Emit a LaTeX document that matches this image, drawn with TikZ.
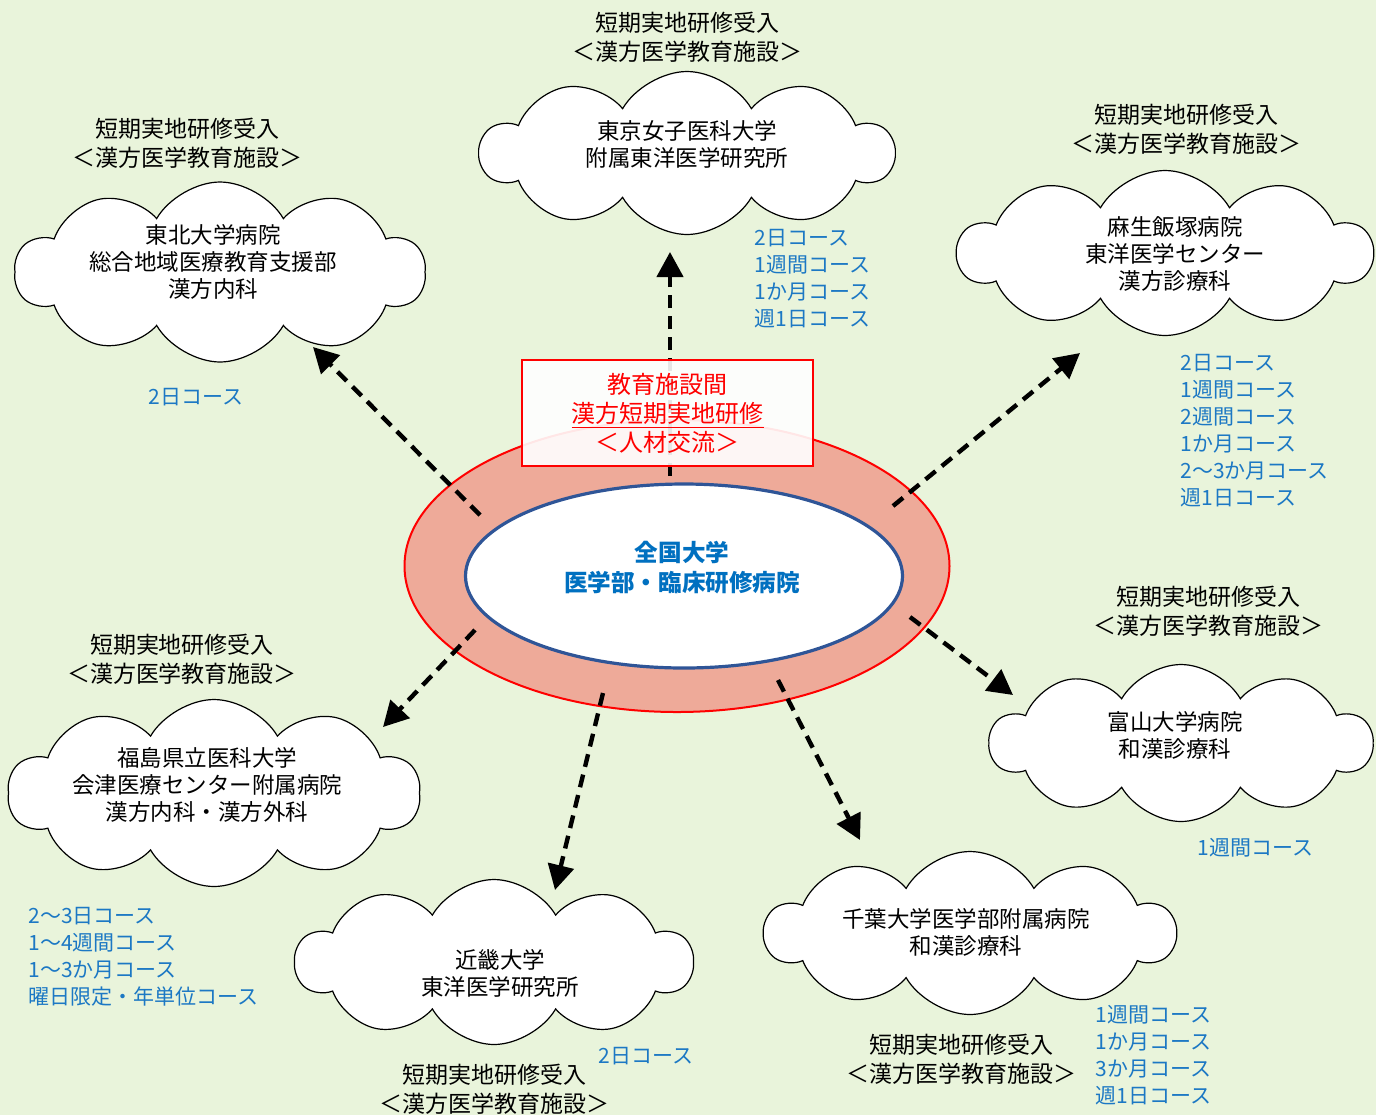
\documentclass[tikz,border=0pt]{standalone}
\usepackage{fontspec}
\setmainfont{Noto Sans CJK JP}
\usetikzlibrary{shapes.symbols}
\usetikzlibrary{shapes.geometric}
\usetikzlibrary{arrows.meta}
\usetikzlibrary{positioning}

\definecolor{bgGreen}{HTML}{E9F4DB}
\definecolor{ringRed}{HTML}{EEAA99}
\definecolor{navyLine}{HTML}{2F5597}
\definecolor{courseBlue}{HTML}{1C78C4}
\definecolor{campusBlue}{HTML}{0070C0}

\tikzset{
  cloudbox/.style 2 args={cloud, draw=black, fill=white, line width=0.6pt,
    cloud puffs=10, cloud puff arc=120, inner sep=0pt,
    minimum width=#1*0.5pt, minimum height=#2*0.5pt},
  cloudtext/.style={align=center, inner sep=0pt, font=\fontsize{11.25}{13.5}\selectfont},
  headline/.style={align=center, inner sep=0pt, font=\fontsize{11.5}{14.5}\selectfont},
  course/.style={align=left, anchor=west, inner sep=0pt, text=courseBlue,
    font=\fontsize{10.5}{13.5}\selectfont},
  exchange/.style={-{Triangle[length=12.5pt,width=13pt]}, line width=2.2pt,
    dash pattern=on 6.5pt off 4pt},
}

\begin{document}
\begin{tikzpicture}[x=0.5pt, y=-0.5pt]
  \fill[bgGreen] (0,0) rectangle (1376,1115);
  \useasboundingbox (0,0) rectangle (1376,1115);

  % centre
  \node[ellipse, draw=red, line width=1pt, fill=ringRed,
    minimum width=545*0.5pt, minimum height=292*0.5pt] (ring) at (677,566) {};
  \node[ellipse, draw=navyLine, line width=1.6pt, fill=white,
    minimum width=437*0.5pt, minimum height=184*0.5pt] (campus) at (684,576) {};
  \node[align=center, inner sep=0pt, text=campusBlue,
    font=\fontsize{11.8}{15}\selectfont\bfseries] (campusText) at (682,568)
    {全国大学\\医学部・臨床研修病院};

  % clouds
  \node[cloudbox={413}{163}] (twmu) at (687,153) {};
  \node[cloudtext] at (687,144) {東京女子医科大学\\附属東洋医学研究所};
  \node[headline] (twmuHead) at (687,37.5) {短期実地研修受入\\＜漢方医学教育施設＞};
  \node[course] (twmuCourse) at (754,278.5) {2日コース\\1週間コース\\1か月コース\\週1日コース};

  \node[cloudbox={410}{180}] (tohoku) at (220,272) {};
  \node[cloudtext] at (213,262) {東北大学病院\\総合地域医療教育支援部\\漢方内科};
  \node[headline] (tohokuHead) at (187,143) {短期実地研修受入\\＜漢方医学教育施設＞};
  \node[course] (tohokuCourse) at (148,397) {2日コース};

  \node[cloudbox={414}{165}] (aso) at (1165,253) {};
  \node[cloudtext] at (1175,254) {麻生飯塚病院\\東洋医学センター\\漢方診療科};
  \node[headline] (asoHead) at (1186,129.5) {短期実地研修受入\\＜漢方医学教育施設＞};
  \node[course] (asoCourse) at (1180,430.5) {2日コース\\1週間コース\\2週間コース\\1か月コース\\2～3か月コース\\週1日コース};

  \node[cloudbox={382}{157}] (toyama) at (1181,743) {};
  \node[cloudtext] at (1175,735.5) {富山大学病院\\和漢診療科};
  \node[headline] (toyamaHead) at (1208,611.5) {短期実地研修受入\\＜漢方医学教育施設＞};
  \node[course] (toyamaCourse) at (1197,848) {1週間コース};

  \node[cloudbox={410}{163}] (chiba) at (970,933) {};
  \node[cloudtext] at (966,932.5) {千葉大学医学部附属病院\\和漢診療科};
  \node[headline] (chibaHead) at (961,1059.5) {短期実地研修受入\\＜漢方医学教育施設＞};
  \node[course] (chibaCourse) at (1095,1055.5) {1週間コース\\1か月コース\\3か月コース\\週1日コース};

  \node[cloudbox={397}{165}] (kindai) at (494,962) {};
  \node[cloudtext] at (500,973.5) {近畿大学\\東洋医学研究所};
  \node[headline] (kindaiHead) at (494,1089.5) {短期実地研修受入\\＜漢方医学教育施設＞};
  \node[course] (kindaiCourse) at (598,1056) {2日コース};

  \node[cloudbox={412}{187}] (aizu) at (214,793) {};
  \node[cloudtext] at (207,784.5) {福島県立医科大学\\会津医療センター附属病院\\漢方内科・漢方外科};
  \node[headline] (aizuHead) at (182,659.5) {短期実地研修受入\\＜漢方医学教育施設＞};
  \node[course] (aizuCourse) at (28,957) {2～3日コース\\1～4週間コース\\1～3か月コース\\曜日限定・年単位コース};

  % arrows
  \coordinate (twmuFrom) at (670,476);   \coordinate (twmuTo) at (670,252);
  \coordinate (tohokuFrom) at (480,515); \coordinate (tohokuTo) at (313,347);
  \coordinate (asoFrom) at (893,506);    \coordinate (asoTo) at (1080,353);
  \coordinate (toyamaFrom) at (910,617); \coordinate (toyamaTo) at (1013,695);
  \coordinate (chibaFrom) at (778,680);  \coordinate (chibaTo) at (860,840);
  \coordinate (kindaiFrom) at (603,693); \coordinate (kindaiTo) at (555,890);
  \coordinate (aizuFrom) at (475,630);   \coordinate (aizuTo) at (383,727);
  \draw[exchange] (twmuFrom) -- (twmuTo);
  \draw[exchange] (tohokuFrom) -- (tohokuTo);
  \draw[exchange] (asoFrom) -- (asoTo);
  \draw[exchange] (toyamaFrom) -- (toyamaTo);
  \draw[exchange] (chibaFrom) -- (chibaTo);
  \draw[exchange] (kindaiFrom) -- (kindaiTo);
  \draw[exchange] (aizuFrom) -- (aizuTo);

  % exchange box
  \node[draw=red, line width=0.6pt, fill=white, fill opacity=0.9, text opacity=1,
    text=red, align=center, inner sep=0pt, font=\fontsize{12}{14.5}\selectfont,
    minimum width=291*0.5pt, minimum height=106*0.5pt] (exchangeBox) at (667.5,413)
    {教育施設間\\\underline{漢方短期実地研修}\\＜人材交流＞};
\end{tikzpicture}
\end{document}
